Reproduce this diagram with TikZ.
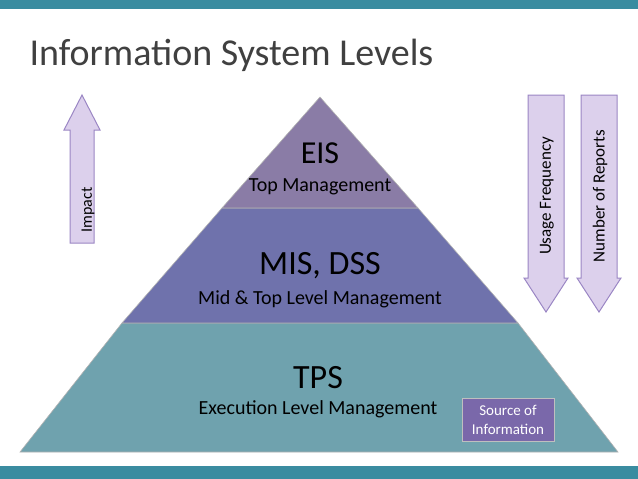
\documentclass[tikz,border=0pt]{standalone}
\usepackage{fontspec}
\setmainfont{Carlito}
\begin{document}
\begin{tikzpicture}[x=1pt,y=-1pt,
  arr/.style={fill=arrfill,draw=arrline,line width=1pt},
  lvl/.style={draw=white!70!black,line width=0.6pt}]
\definecolor{bar}{HTML}{3A8CA0}
\definecolor{arrfill}{HTML}{DCD0EC}
\definecolor{arrline}{HTML}{9A86C4}
\definecolor{topc}{HTML}{8A7CA6}
\definecolor{midc}{HTML}{6F72AC}
\definecolor{basec}{HTML}{6FA2AE}
\definecolor{srcc}{HTML}{7A68AA}
\useasboundingbox (0,0) rectangle (638,479);
\fill[bar] (0,0) rectangle (638,9);
\fill[bar] (0,466) rectangle (638,479);
\node[anchor=west,font=\fontsize{38}{40}\selectfont,text=black!75] (title) at (26,55) {Information System Levels};
% pyramid
\fill[basec,lvl] (122,323) -- (518,323) -- (618,452) -- (20,452) -- cycle;
\fill[midc,lvl] (222,208) -- (418,208) -- (518,323) -- (122,323) -- cycle;
\fill[topc,lvl] (320,97) -- (418,208) -- (222,208) -- cycle;
\node[font=\fontsize{32}{34}\selectfont] (eis) at (320,153) {EIS};
\node[font=\fontsize{20}{22}\selectfont] (eist) at (320,187) {Top Management};
\node[font=\fontsize{34}{36}\selectfont] (mis) at (320,266) {MIS, DSS};
\node[font=\fontsize{20}{22}\selectfont] (mist) at (320,299) {Mid \& Top Level Management};
\node[font=\fontsize{34}{36}\selectfont] (tps) at (318,378) {TPS};
\node[font=\fontsize{20}{22}\selectfont] (tpst) at (318,409) {Execution Level Management};
\node[fill=srcc,draw=white!75!black,text=white,minimum width=92pt,minimum height=43pt,align=center,font=\fontsize{15}{19}\selectfont] (src) at (508,420) {Source of\\Information};
% impact arrow
\draw[arr] (70,243) -- (70,130) -- (64,130) -- (82,95) -- (100,130) -- (94,130) -- (94,243) -- cycle;
\node[rotate=90,font=\fontsize{16}{18}\selectfont] (imp) at (88,210) {Impact};
% down arrows
\draw[arr] (528,95) -- (564,95) -- (564,278) -- (568,278) -- (546,312) -- (524,278) -- (528,278) -- cycle;
\node[rotate=90,font=\fontsize{17}{19}\selectfont] (uf) at (547,196) {Usage Frequency};
\draw[arr] (581,95) -- (617,95) -- (617,278) -- (621,278) -- (599,312) -- (577,278) -- (581,278) -- cycle;
\node[rotate=90,font=\fontsize{17}{19}\selectfont] (nr) at (600,196) {Number of Reports};
\end{tikzpicture}
\end{document}
